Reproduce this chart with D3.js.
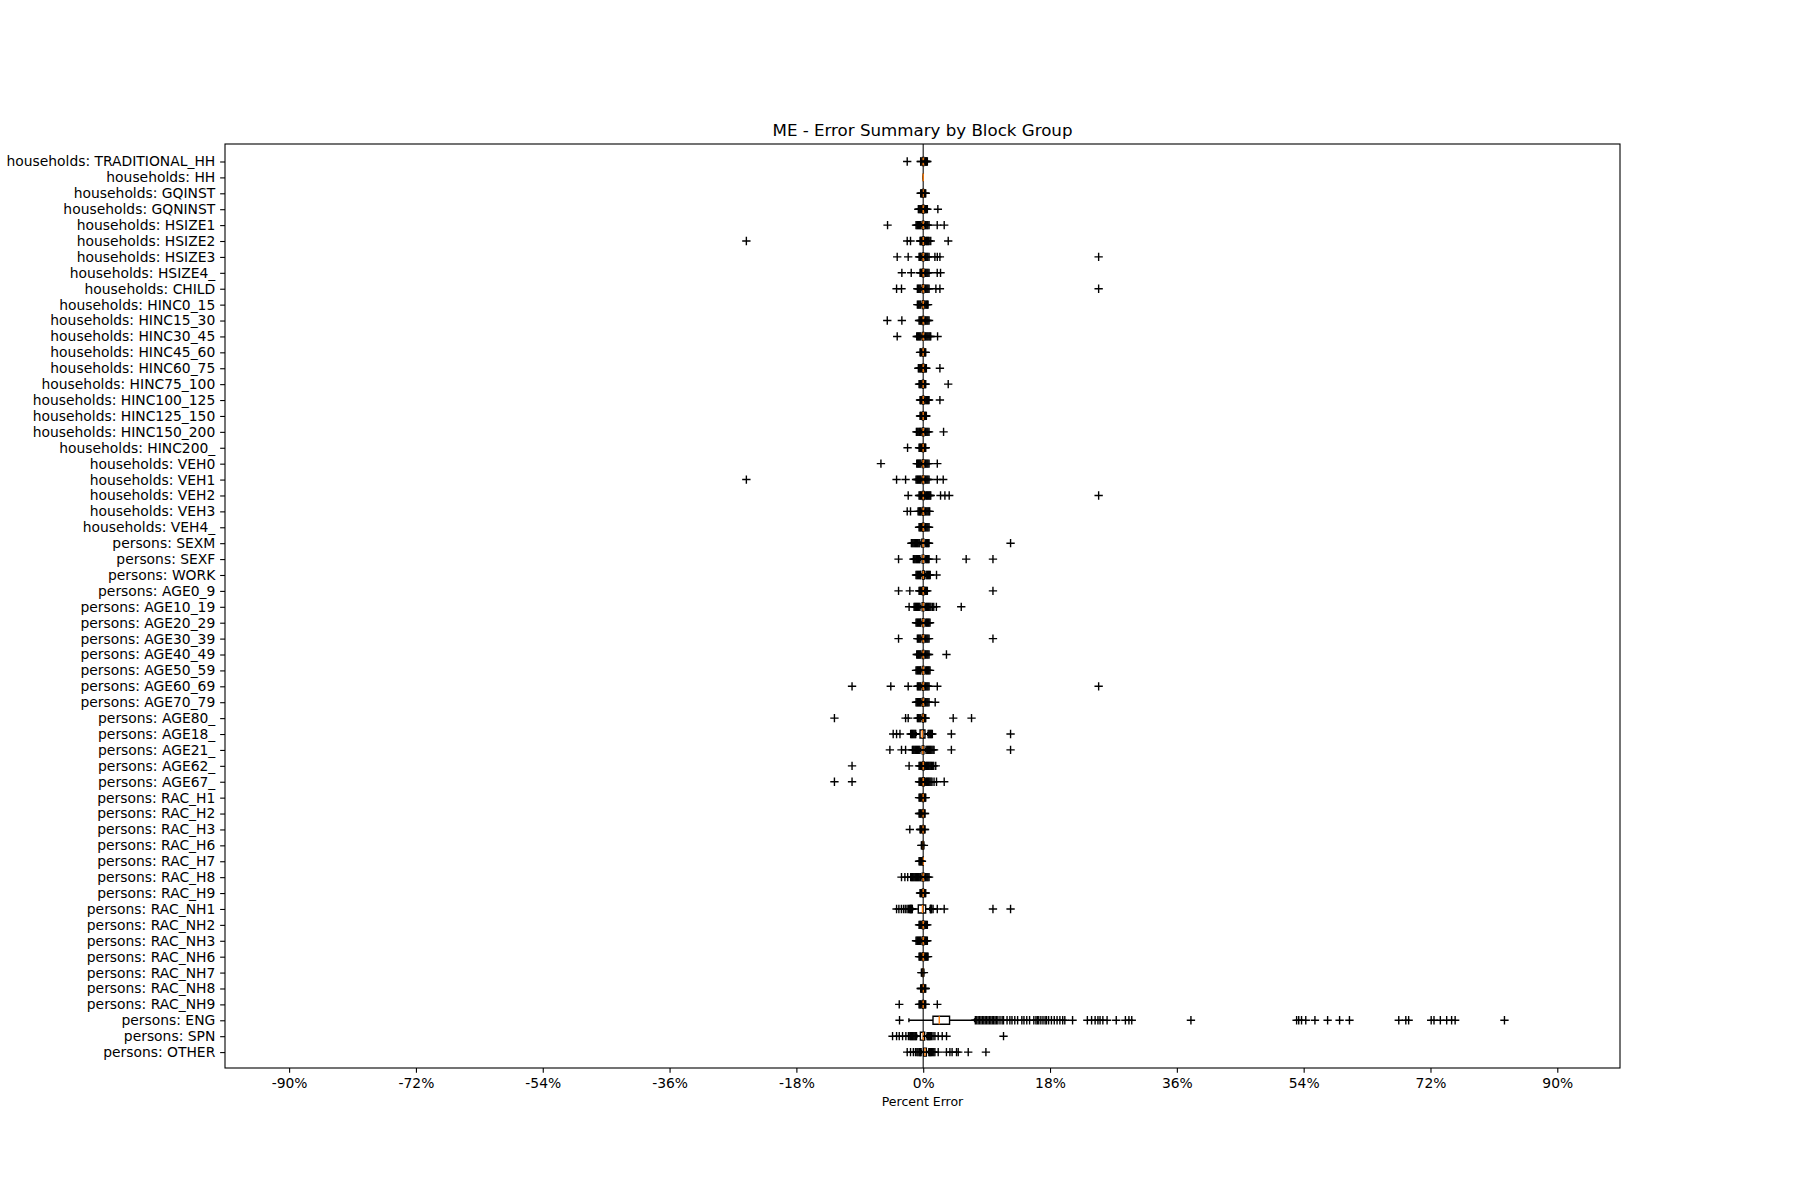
<!DOCTYPE html>
<html>
<head>
<meta charset="utf-8">
<script src="https://cdn.jsdelivr.net/npm/d3@7"></script>
<style>
  body { margin: 0; background: #fff; }
  text { font-family: "DejaVu Sans", sans-serif; fill: #000; }
</style>
</head>
<body>
<div id="chart"></div>
<script>
// data (percent error by block group)
var categories = [
  "households: TRADITIONAL_HH", "households: HH", "households: GQINST", "households: GQNINST",
  "households: HSIZE1", "households: HSIZE2", "households: HSIZE3", "households: HSIZE4_",
  "households: CHILD", "households: HINC0_15", "households: HINC15_30", "households: HINC30_45",
  "households: HINC45_60", "households: HINC60_75", "households: HINC75_100", "households: HINC100_125",
  "households: HINC125_150", "households: HINC150_200", "households: HINC200_", "households: VEH0",
  "households: VEH1", "households: VEH2", "households: VEH3", "households: VEH4_",
  "persons: SEXM", "persons: SEXF", "persons: WORK", "persons: AGE0_9", "persons: AGE10_19",
  "persons: AGE20_29", "persons: AGE30_39", "persons: AGE40_49", "persons: AGE50_59",
  "persons: AGE60_69", "persons: AGE70_79", "persons: AGE80_", "persons: AGE18_", "persons: AGE21_",
  "persons: AGE62_", "persons: AGE67_", "persons: RAC_H1", "persons: RAC_H2", "persons: RAC_H3",
  "persons: RAC_H6", "persons: RAC_H7", "persons: RAC_H8", "persons: RAC_H9", "persons: RAC_NH1",
  "persons: RAC_NH2", "persons: RAC_NH3", "persons: RAC_NH6", "persons: RAC_NH7", "persons: RAC_NH8",
  "persons: RAC_NH9", "persons: ENG", "persons: SPN", "persons: OTHER"
];

var whiskerLow = [-0.2,0,-0.15,-0.2,-0.25,-0.2,-0.25,-0.2,-0.25,-0.25,
  -0.2,-0.25,-0.2,-0.2,-0.2,-0.2,-0.2,-0.25,-0.2,-0.25,
  -0.25,-0.2,-0.25,-0.2,-0.4,-0.4,-0.3,-0.2,-0.35,-0.3,
  -0.25,-0.25,-0.3,-0.25,-0.25,-0.25,-1.0,-0.4,-0.2,-0.2,
  -0.2,-0.2,-0.2,-0.1,-0.1,-0.3,-0.2,-1.5,-0.2,-0.25,
  -0.2,-0.1,-0.15,-0.2,-2.03,-0.9,-0.25];

var q1 = [-0.1,0,-0.05,-0.1,-0.1,-0.1,-0.1,-0.1,-0.1,-0.1,
  -0.1,-0.1,-0.05,-0.1,-0.1,-0.1,-0.1,-0.1,-0.1,-0.1,
  -0.1,-0.1,-0.1,-0.1,-0.2,-0.15,-0.1,-0.1,-0.15,-0.1,
  -0.1,-0.1,-0.1,-0.1,-0.1,-0.1,-0.45,-0.15,-0.1,-0.1,
  -0.1,-0.1,-0.05,-0.05,-0.05,-0.15,-0.1,-0.7,-0.1,-0.1,
  -0.1,-0.05,-0.05,-0.1,1.39,-0.4,0.05];

var medians = [0,0,0,0,0,0,0,0,0,0,
  0,0,0,0,0,0,0,0,0,0,
  0,0,0,0,0,0,0,0,0,0,
  0,0,0,0,0,0,-0.14,-0.05,0,0,
  0,0,0,0,0,0,0,-0.1,0,0,
  0,0,0,0,2.28,0,0.24];

var q3 = [0.1,0,0.05,0.1,0.1,0.15,0.1,0.1,0.1,0.1,
  0.1,0.1,0.05,0.1,0.05,0.1,0.05,0.1,0.05,0.1,
  0.1,0.15,0.1,0.1,0.1,0.1,0.15,0.1,0.1,0.1,
  0.1,0.1,0.1,0.1,0.1,0.05,0.25,0.1,0.15,0.15,
  0.05,0.05,0.05,0,0,0.1,0.05,0.35,0.1,0.1,
  0.1,0,0.05,0.05,3.74,0.2,0.45];

var whiskerHigh = [0.2,0,0.15,0.2,0.25,0.3,0.25,0.25,0.25,0.2,
  0.25,0.25,0.15,0.2,0.15,0.2,0.15,0.25,0.15,0.25,
  0.25,0.3,0.25,0.25,0.3,0.3,0.35,0.2,0.3,0.3,
  0.25,0.25,0.3,0.25,0.25,0.15,0.65,0.35,0.3,0.3,
  0.15,0.12,0.12,0.05,0,0.25,0.15,0.95,0.2,0.2,
  0.2,0.05,0.15,0.15,7.29,0.5,0.75];

var outliers = [
  [-2.27,-0.36,-0.29,0.26,0.34,0.42,0.5,0.59],
  [],
  [-0.36,-0.26,-0.19,0.19,0.28,0.36],
  [-0.69,-0.58,-0.47,-0.36,-0.26,0.26,0.36,0.47,0.59,2.08],
  [-5.06,-1.02,-0.9,-0.78,-0.66,-0.54,-0.42,-0.31,0.3,0.42,0.54,0.66,0.83,1.99,2.98],
  [-25.1,-2.27,-1.8,-0.45,-0.35,-0.25,0.36,0.48,0.6,0.72,0.85,1.07,3.55],
  [-3.69,-2.13,-0.59,-0.48,-0.37,-0.3,0.3,0.42,0.54,0.66,0.83,1.66,2.0,2.37,24.9],
  [-3.03,-1.7,-0.45,-0.35,-0.26,0.3,0.42,0.55,0.68,0.83,1.99,2.46],
  [-3.78,-3.08,-0.83,-0.7,-0.58,-0.46,-0.34,0.3,0.42,0.55,0.68,0.83,1.8,2.37,24.9],
  [-0.83,-0.7,-0.58,-0.46,-0.34,0.26,0.38,0.5,0.6,0.69],
  [-5.1,-3.03,-0.59,-0.47,-0.35,-0.26,0.3,0.42,0.55,0.68,0.83],
  [-3.69,-0.92,-0.8,-0.68,-0.56,-0.44,-0.32,0.3,0.42,0.55,0.68,0.82,0.95,1.07,2.04],
  [-0.45,-0.36,-0.27,0.2,0.28,0.36],
  [-0.69,-0.58,-0.47,-0.36,-0.26,0.26,0.36,0.45,2.37],
  [-0.59,-0.48,-0.38,-0.28,0.2,0.28,0.36,3.55],
  [-0.45,-0.36,-0.27,0.26,0.38,0.5,0.62,0.72,0.83,2.37],
  [-0.45,-0.36,-0.27,0.2,0.3,0.38,0.45],
  [-0.97,-0.85,-0.73,-0.61,-0.5,-0.39,-0.3,0.3,0.42,0.55,0.68,0.83,2.89],
  [-2.22,-0.59,-0.48,-0.38,-0.27,0.2,0.28,0.36],
  [-6.0,-0.92,-0.8,-0.68,-0.56,-0.44,-0.32,0.3,0.42,0.55,0.68,0.83,2.0],
  [-25.1,-3.78,-2.5,-1.02,-0.9,-0.78,-0.66,-0.54,-0.42,-0.31,0.3,0.42,0.55,0.68,0.83,2.0,2.84],
  [-2.13,-0.59,-0.47,-0.36,-0.26,0.36,0.48,0.6,0.72,0.85,0.96,1.07,2.46,3.08,3.69,24.9],
  [-2.27,-1.8,-0.73,-0.61,-0.5,-0.39,-0.3,0.3,0.42,0.55,0.68,0.8,0.92],
  [-0.59,-0.47,-0.36,-0.26,0.3,0.42,0.55,0.68,0.83],
  [-1.68,-1.56,-1.44,-1.32,-1.2,-1.08,-0.96,-0.84,-0.72,-0.6,-0.48,0.36,0.48,0.6,0.72,0.83,12.4],
  [-3.5,-1.4,-1.28,-1.16,-1.04,-0.92,-0.8,-0.68,-0.56,-0.46,0.36,0.48,0.6,0.72,0.83,1.89,6.1,9.9],
  [-1.02,-0.9,-0.78,-0.66,-0.54,-0.42,-0.36,0.4,0.52,0.64,0.76,0.88,1.0,1.89],
  [-3.5,-1.9,-0.59,-0.48,-0.37,-0.27,0.26,0.36,0.47,0.59,9.9],
  [-2.0,-1.3,-1.18,-1.06,-0.94,-0.82,-0.7,-0.58,-0.46,0.36,0.48,0.6,0.72,0.84,0.96,1.1,1.3,1.5,1.87,5.4],
  [-1.02,-0.9,-0.78,-0.66,-0.54,-0.42,-0.35,0.36,0.48,0.6,0.72,0.84,0.97],
  [-3.5,-0.83,-0.7,-0.58,-0.46,-0.34,0.3,0.42,0.55,0.68,0.83,9.9],
  [-0.92,-0.8,-0.68,-0.56,-0.44,-0.32,0.3,0.42,0.55,0.68,0.83,3.3],
  [-1.02,-0.9,-0.78,-0.66,-0.54,-0.42,-0.35,0.36,0.48,0.6,0.72,0.84,0.97],
  [-10.1,-4.6,-2.13,-0.83,-0.7,-0.58,-0.46,-0.34,0.3,0.42,0.55,0.68,0.83,2.0,24.9],
  [-1.02,-0.9,-0.78,-0.66,-0.54,-0.42,-0.31,0.3,0.42,0.55,0.68,0.83,1.7],
  [-12.6,-2.5,-2.13,-0.83,-0.7,-0.58,-0.46,-0.34,0.2,0.28,0.36,4.26,6.86],
  [-4.26,-3.78,-3.3,-1.78,-1.66,-1.54,-1.42,-1.3,-1.18,-1.06,0.7,0.82,0.94,1.06,1.18,1.3,4.0,12.4],
  [-4.73,-3.08,-2.5,-1.54,-1.42,-1.3,-1.18,-1.06,-0.94,-0.82,-0.7,-0.58,-0.46,0.4,0.52,0.64,0.76,0.88,1.0,1.12,1.25,1.4,1.54,4.0,12.4],
  [-10.1,-2.0,-0.59,-0.47,-0.36,-0.26,0.36,0.48,0.6,0.72,0.84,0.96,1.08,1.2,1.35,1.5,1.78],
  [-12.6,-10.1,-0.59,-0.47,-0.36,-0.26,0.36,0.48,0.6,0.72,0.84,0.96,1.1,1.25,1.54,1.89,2.98],
  [-0.59,-0.48,-0.38,-0.28,0.2,0.28,0.36],
  [-0.59,-0.48,-0.38,-0.28,0.18,0.26],
  [-1.9,-0.45,-0.36,-0.27,0.18,0.26],
  [-0.26,-0.18,0.1],
  [-0.59,-0.48,-0.38,-0.28,-0.18],
  [-3.08,-2.6,-2.2,-1.78,-1.66,-1.54,-1.42,-1.3,-1.18,-1.06,-0.94,-0.82,-0.7,-0.58,-0.46,-0.36,0.3,0.42,0.55,0.68,0.83],
  [-0.45,-0.36,-0.27,0.2,0.28,0.36],
  [-3.78,-3.45,-3.1,-2.8,-2.55,-2.3,-2.1,-1.95,-1.85,-1.78,-1.7,-1.62,-1.54,1.0,1.06,1.12,1.2,1.4,2.0,2.98,9.9,12.4],
  [-0.59,-0.48,-0.38,-0.28,0.26,0.36,0.47,0.59],
  [-1.02,-0.9,-0.78,-0.66,-0.54,-0.42,-0.31,0.26,0.36,0.47,0.59],
  [-0.59,-0.48,-0.38,-0.28,0.26,0.36,0.47,0.58,0.69],
  [-0.26,-0.17,0.1],
  [-0.36,-0.27,-0.2,0.2,0.28,0.36],
  [-3.4,-0.59,-0.48,-0.38,-0.28,0.2,0.28,0.36,2.0],
  [-3.36,7.4,7.6,7.8,8.0,8.2,8.4,8.6,8.8,9.0,9.2,9.4,9.6,9.8,10.0,10.2,10.4,10.6,10.9,11.2,11.4,
   11.9,12.3,12.6,13.0,13.4,14.0,14.3,14.7,15.1,15.7,16.0,16.2,16.4,16.7,17.0,17.3,17.5,17.8,18.2,
   18.6,19.0,19.4,19.8,20.1,21.2,23.3,23.9,24.4,24.8,25.1,25.5,26.1,27.4,28.7,29.2,29.6,38.0,
   53.0,53.3,53.7,54.3,55.6,57.4,59.1,60.5,67.5,68.5,68.9,72.1,72.5,73.4,74.3,75.0,75.5,82.5],
  [-4.35,-3.78,-3.4,-2.93,-2.46,-2.1,-1.9,-1.78,-1.66,-1.54,-1.42,-1.3,-1.18,-1.06,-0.95,
   0.55,0.65,0.75,0.85,0.95,1.05,1.2,1.4,1.66,2.13,2.7,3.31,11.4],
  [-2.27,-1.8,-1.4,-1.1,-0.9,-0.75,-0.59,-0.48,-0.38,-0.3,0.8,0.9,1.0,1.1,1.2,1.35,1.5,1.66,
   2.13,3.3,3.79,4.1,4.73,4.97,6.39,8.9]
];

var tickValues = [-90, -72, -54, -36, -18, 0, 18, 36, 54, 72, 90];
var tickLabels = ["-90%", "-72%", "-54%", "-36%", "-18%", "0%", "18%", "36%", "54%", "72%", "90%"];

// Base
var width = 1800, height = 1200;
var plot = {left: 225, right: 1620, top: 144, bottom: 1068};

var svg = d3.select('#chart').append('svg')
    .attr('width', width)
    .attr('height', height);

var x = d3.scaleLinear().domain([-99.1, 98.9]).range([plot.left, plot.right]);
var y = d3.scaleLinear().domain([-0.1, 58]).range([plot.top, plot.bottom]);
var rowH = y(1) - y(0);
var boxHalf = rowH * 0.25, capHalf = rowH * 0.125, mk = 4.17;

// axes
svg.append('g')
    .attr('transform', 'translate(0,' + plot.bottom + ')')
    .call(d3.axisBottom(x).tickValues(tickValues)
        .tickFormat(function(d, i) { return tickLabels[i]; })
        .tickSize(4.86).tickPadding(4.86).tickSizeOuter(0))
    .call(function(g) {
        g.select('.domain').remove();
        g.selectAll('line').attr('stroke', '#000').attr('stroke-width', 1.1);
        g.selectAll('text').attr('font-size', '13.89px').attr('font-family', 'DejaVu Sans');
    });

svg.append('g')
    .attr('transform', 'translate(' + plot.left + ',0)')
    .call(d3.axisLeft(y).tickValues(d3.range(1, categories.length + 1))
        .tickFormat(function(d) { return categories[d - 1]; })
        .tickSize(4.86).tickPadding(4.86).tickSizeOuter(0))
    .call(function(g) {
        g.select('.domain').remove();
        g.selectAll('line').attr('stroke', '#000').attr('stroke-width', 1.1);
        g.selectAll('text').attr('font-size', '13.89px').attr('font-family', 'DejaVu Sans');
    });

// zero line
svg.append('line')
    .attr('x1', x(0)).attr('x2', x(0))
    .attr('y1', plot.top).attr('y2', plot.bottom)
    .attr('stroke', '#222').attr('stroke-width', 1.2);

// boxes
var rows = svg.append('g').selectAll('g.row')
    .data(categories)
    .join('g')
    .attr('class', 'row')
    .attr('transform', function(d, i) { return 'translate(0,' + y(i + 1) + ')'; });

rows.append('path')
    .attr('d', function(d, i) {
        return 'M' + x(whiskerLow[i]) + ',0H' + x(q1[i]) + 'M' + x(q3[i]) + ',0H' + x(whiskerHigh[i]);
    })
    .attr('stroke', '#000').attr('stroke-width', 1.39).attr('fill', 'none');

rows.append('path')
    .attr('d', function(d, i) {
        return 'M' + x(whiskerLow[i]) + ',' + (-capHalf) + 'V' + capHalf +
               'M' + x(whiskerHigh[i]) + ',' + (-capHalf) + 'V' + capHalf;
    })
    .attr('stroke', '#000').attr('stroke-width', 1.39).attr('fill', 'none');

rows.append('path')
    .attr('d', function(d, i) {
        return 'M' + x(q1[i]) + ',' + (-boxHalf) + 'H' + x(q3[i]) + 'V' + boxHalf +
               'H' + x(q1[i]) + 'Z';
    })
    .attr('stroke', '#000').attr('stroke-width', 1.39).attr('fill', 'none');

rows.append('line')
    .attr('x1', function(d, i) { return x(medians[i]); })
    .attr('x2', function(d, i) { return x(medians[i]); })
    .attr('y1', -boxHalf).attr('y2', boxHalf)
    .attr('stroke', '#ff7f0e').attr('stroke-width', 1.39);

rows.selectAll('path.flier')
    .data(function(d, i) { return outliers[i]; })
    .join('path')
    .attr('class', 'flier')
    .attr('d', function(v) {
        var cx = x(v);
        return 'M' + (cx - mk) + ',0H' + (cx + mk) + 'M' + cx + ',' + (-mk) + 'V' + mk;
    })
    .attr('stroke', '#000').attr('stroke-width', 1.39).attr('fill', 'none');

// frame
svg.append('rect')
    .attr('x', plot.left).attr('y', plot.top)
    .attr('width', plot.right - plot.left).attr('height', plot.bottom - plot.top)
    .attr('fill', 'none').attr('stroke', '#000').attr('stroke-width', 1.1);

// title and label
svg.append('text')
    .attr('x', (plot.left + plot.right) / 2).attr('y', 136)
    .attr('text-anchor', 'middle').attr('font-size', '16.67px')
    .text('ME - Error Summary by Block Group');

svg.append('text')
    .attr('x', (plot.left + plot.right) / 2).attr('y', 1106)
    .attr('text-anchor', 'middle').attr('font-size', '12.5px')
    .text('Percent Error');
</script>
</body>
</html>
